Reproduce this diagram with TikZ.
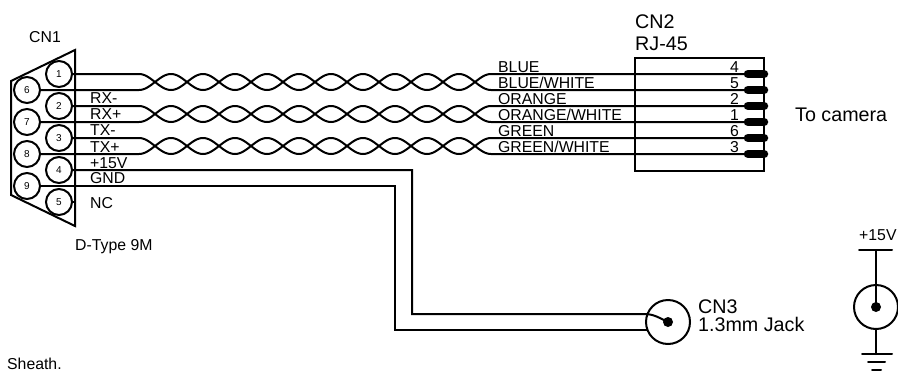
\documentclass[tikz,border=0pt]{standalone}
\usepackage{fontspec}
\setmainfont{Liberation Sans}
\usetikzlibrary{calc}

\tikzset{
  wire/.style={line width=2pt,line cap=round,line join=miter},
  pinnode/.style={circle,draw,line width=2pt,minimum size=26pt,inner sep=0pt,font=\fontsize{10}{10}\selectfont},
  lab/.style={anchor=base west,inner sep=0pt,font=\fontsize{15.8}{15.8}\selectfont},
  biglab/.style={anchor=base west,inner sep=0pt,font=\fontsize{19.7}{19.7}\selectfont},
  numlab/.style={anchor=base east,inner sep=0pt,font=\fontsize{15.8}{15.8}\selectfont},
  jack/.style={circle,draw,line width=2pt,minimum size=44pt,inner sep=0pt},
  hotpin/.style={line width=8.5pt,line cap=round}
}

\begin{document}
\begin{tikzpicture}[x=1pt,y=-1pt]
\useasboundingbox (0,0) rectangle (898,373);

% D-type shell
\draw[wire] (75,50) -- (11,81) -- (11,195) -- (75,226) -- cycle;

% Pins of CN1
\foreach \n/\px/\py in {1/59/74,6/27/90,2/59/106,7/27/122,3/59/138,8/27/154,4/59/170,9/27/186,5/59/202}
  \node[pinnode,fill=white] (p\n) at (\px,\py) {\n};
\coordinate (shell5) at (75,202);
\draw[wire] (p5) -- (shell5);

% CN2 box and its pins
\draw[wire] (635,58) rectangle (764,171);
\foreach \n/\py in {4/74,5/90,2/106,1/122,6/138,3/154} {
  \coordinate (e\n) at (748,\py);
  \coordinate (f\n) at (764,\py);
  \draw[hotpin] (e\n) -- (f\n);
  \node[numlab] at (739,\py-2) {\n};
}

% Twisted pairs
\foreach \a/\b/\c/\d/\ya in {1/6/4/5/74,2/7/2/1/106,3/8/6/3/138} {
  \coordinate (ta) at (139,\ya);
  \coordinate (tb) at (139,\ya+16);
  \draw[wire] (p\a) -- (ta) -- plot[smooth,domain=139:491,samples=177]
    (\x,{\ya+8-8*cos(5.625*(\x-139))}) -- (e\d);
  \draw[wire] (p\b) -- (tb) -- plot[smooth,domain=139:491,samples=177]
    (\x,{\ya+8+8*cos(5.625*(\x-139))}) -- (e\c);
}

% Power wires to the jack
\node[jack] (cn3) at (668,322) {};
\fill (cn3.center) circle (5pt);
\coordinate (pw1) at (412,170);
\coordinate (pw2) at (412,314);
\coordinate (pw3) at (644,314);
\coordinate (gn1) at (395,186);
\coordinate (gn2) at (395,330);
\coordinate (gn3) at (647,330);
\draw[wire] (p4) -- (pw1) -- (pw2) -- (pw3) to[out=0,in=155] (cn3.center);
\draw[wire] (p9) -- (gn1) -- (gn2) -- (gn3);

% Jack symbol with supply and ground
\node[jack] (dc) at (876,307) {};
\fill (dc.center) circle (5pt);
\coordinate (vtop) at (876,250);
\coordinate (gnd) at (876,354);
\draw[wire] (vtop) -- (dc.center);
\draw[wire] (dc) -- (gnd);
\draw[wire] (859,250) -- (892,250);
\draw[wire] (862,354) -- (892,354);
\draw[wire] (868,362) -- (885,362);
\draw[wire] (872,370) -- (881,370);

% Labels
\node[lab] at (29,42) {CN1};
\node[lab] at (90,103) {RX-};
\node[lab] at (90,119) {RX+};
\node[lab] at (90,135) {TX-};
\node[lab] at (90,152) {TX+};
\node[lab] at (90,168) {+15V};
\node[lab] at (90,183) {GND};
\node[lab] at (90,208) {NC};
\node[lab] at (75,250) {D-Type 9M};
\node[lab] at (7,369) {Sheath.};
\node[lab] at (498,72) {BLUE};
\node[lab] at (498,88) {BLUE/WHITE};
\node[lab] at (498,104) {ORANGE};
\node[lab] at (498,120) {ORANGE/WHITE};
\node[lab] at (498,136) {GREEN};
\node[lab] at (498,152) {GREEN/WHITE};
\node[biglab] at (635,28) {CN2};
\node[biglab] at (635,50) {RJ-45};
\node[biglab] at (795,121) {To camera};
\node[biglab] at (698,313) {CN3};
\node[biglab] at (698,331) {1.3mm Jack};
\node[lab] at (859,240) {+15V};
\end{tikzpicture}
\end{document}
